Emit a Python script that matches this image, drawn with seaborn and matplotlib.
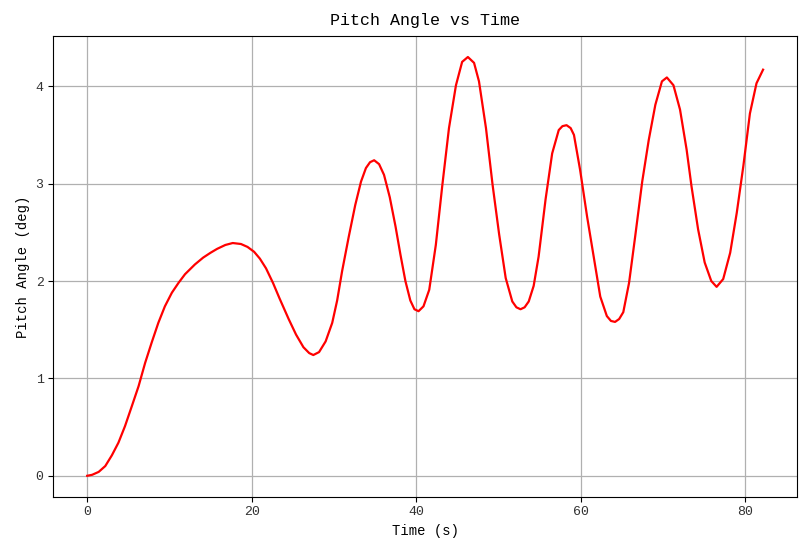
import numpy as np
import pandas as pd
import seaborn as sns
import matplotlib.pyplot as plt

# Values
time_s = [
    0.0, 0.6, 1.4, 2.2, 3.0, 3.8, 4.6, 5.45, 6.25, 7.05, 7.85, 8.65, 9.45,
    10.3, 11.1, 11.9, 13.1, 14.1, 15.0, 15.8, 16.8, 17.7, 18.7, 19.5, 20.3,
    21.0, 21.75, 22.6, 23.4, 24.5, 25.4, 26.3, 27.0, 27.5, 28.2, 29.0, 29.8,
    30.4, 31.0, 31.8, 32.6, 33.3, 33.9, 34.4, 34.9, 35.5, 36.1, 36.8, 37.5,
    38.1, 38.7, 39.3, 39.8, 40.3, 40.9, 41.6, 42.4, 43.2, 44.0, 44.85, 45.6,
    46.3, 47.05, 47.65, 48.5, 49.3, 50.1, 50.9, 51.7, 52.2, 52.7, 53.2, 53.7,
    54.3, 54.9, 55.75, 56.55, 57.35, 57.8, 58.3, 58.8, 59.2, 59.95, 60.8,
    61.6, 62.4, 63.2, 63.7, 64.2, 64.7, 65.2, 65.9, 66.65, 67.5, 68.3, 69.1,
    69.9, 70.5, 71.3, 72.1, 72.9, 73.5, 74.3, 75.1, 75.9, 76.55, 77.35,
    78.2, 79.0, 79.8, 80.6, 81.4, 82.2,
]
pitch_deg = [
    0.0, 0.01, 0.04, 0.10, 0.21, 0.34, 0.51, 0.72, 0.92, 1.16, 1.37, 1.57, 1.74,
    1.88, 1.98, 2.07, 2.17, 2.24, 2.29, 2.33, 2.37, 2.39, 2.38, 2.35, 2.30,
    2.23, 2.13, 1.98, 1.82, 1.61, 1.45, 1.32, 1.26, 1.24, 1.27, 1.38, 1.57,
    1.80, 2.10, 2.45, 2.78, 3.02, 3.16, 3.22, 3.24, 3.20, 3.09, 2.86, 2.56,
    2.27, 2.00, 1.80, 1.71, 1.69, 1.74, 1.91, 2.37, 2.99, 3.57, 4.01, 4.25,
    4.30, 4.24, 4.05, 3.57, 2.99, 2.48, 2.03, 1.79, 1.73, 1.71, 1.73, 1.79,
    1.95, 2.25, 2.84, 3.31, 3.55, 3.59, 3.60, 3.57, 3.50, 3.14, 2.66,
    2.25, 1.84, 1.64, 1.59, 1.58, 1.61, 1.68, 1.98, 2.46, 3.02, 3.45, 3.81,
    4.05, 4.09, 4.01, 3.76, 3.35, 2.97, 2.53, 2.19, 2.00, 1.94, 2.02,
    2.29, 2.70, 3.18, 3.72, 4.03, 4.17,
]

df = pd.DataFrame({"Time": time_s, "Pitch": pitch_deg})

plt.rcParams["font.family"] = ["Liberation Mono", "DejaVu Sans"]

fig, ax = plt.subplots(figsize=(8.09, 5.55), dpi=100)
fig.subplots_adjust(left=0.066, right=0.985, top=0.935, bottom=0.105)

sns.lineplot(data=df, x="Time", y="Pitch", color="red", linewidth=1.6,
             ax=ax, sort=False)

ax.set_title("Pitch Angle vs Time", fontsize=12, pad=8)
ax.set_xlabel("Time (s)", fontsize=10)
ax.set_ylabel("Pitch Angle (deg)", fontsize=10)
ax.tick_params(labelsize=9.5, colors="black", labelcolor="#333333")
ax.grid(True, color="#b0b0b0", linewidth=0.9)

plt.savefig("out.png", dpi=100)
